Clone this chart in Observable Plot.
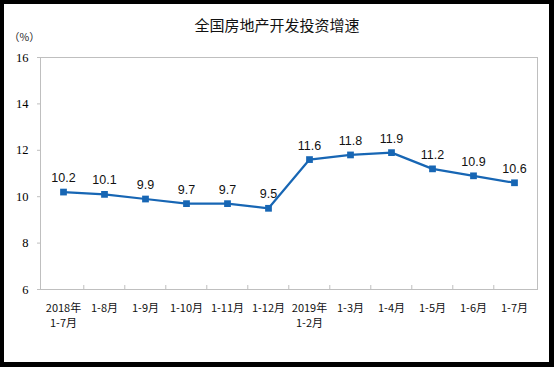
<!DOCTYPE html>
<html>
<head>
<meta charset="utf-8">
<script src="https://cdn.jsdelivr.net/npm/d3@7"></script>
<script src="https://cdn.jsdelivr.net/npm/@observablehq/plot@0.6"></script>
<style>
  html, body { margin: 0; padding: 0; background: #000; width: 554px; height: 367px; overflow: hidden; }
  #frame { position: absolute; left: 4px; top: 4px; width: 545px; height: 358px; background: #fff; }
  #title { position: absolute; left: 0; top: 15px; width: 554px; text-align: center; font: 15px/20px "Noto Sans CJK SC", sans-serif; color: #111; z-index: 2; }
  #unit { position: absolute; left: 9px; top: 30px; font: 10.5px/14px "Noto Sans CJK SC", sans-serif; color: #222; z-index: 2; }
  #chart { position: absolute; left: 0; top: 0; z-index: 1; }
</style>
</head>
<body>
<div id="frame"></div>
<div id="title">全国房地产开发投资增速</div>
<div id="unit">（%）</div>
<div id="chart"></div>
<script>
const categories = ["2018年\n1-7月", "1-8月", "1-9月", "1-10月", "1-11月", "1-12月", "2019年\n1-2月", "1-3月", "1-4月", "1-5月", "1-6月", "1-7月"];
const values = [10.2, 10.1, 9.9, 9.7, 9.7, 9.5, 11.6, 11.8, 11.9, 11.2, 10.9, 10.6];
const yTicks = [6, 8, 10, 12, 14, 16];

const data = categories.map((c, i) => ({cat: c, v: values[i]}));

const W = 554, H = 367, mL = 40, mR = 17, mT = 57, mB = 78;
const step = (W - mL - mR) / categories.length;
const plotH = H - mT - mB;
const lineColor = "#1766b4";
const axisGray = "#bfbfbf";

const chart = Plot.plot({
  width: W, height: H,
  marginLeft: mL, marginRight: mR, marginTop: mT, marginBottom: mB,
  style: {background: "transparent", overflow: "visible"},
  x: {type: "point", domain: categories, padding: 0.5},
  y: {domain: [6, 16]},
  marks: [
    Plot.frame({stroke: axisGray}),
    Plot.axisY({ticks: yTicks, tickSize: 3, tickFormat: () => "", color: axisGray, label: null}),
    Plot.axisY({ticks: yTicks, tickSize: 0, tickPadding: 12, color: "#000", fontSize: 12.5, fontFamily: "Liberation Serif, serif", label: null}),
    Plot.ruleX(categories.slice(1), {x: d => d, dx: -step / 2, insetTop: plotH - 4, stroke: axisGray}),
    Plot.axisX({tickSize: 0, tickPadding: 12, fontSize: 11, fontFamily: "Noto Sans CJK SC, sans-serif", lineHeight: 1.35, color: "#111", label: null}),
    Plot.line(data, {x: "cat", y: "v", stroke: lineColor, strokeWidth: 2.2}),
    Plot.dot(data, {x: "cat", y: "v", symbol: "square", r: 3.8, fill: lineColor}),
    Plot.text(data, {x: "cat", y: "v", text: d => d.v.toFixed(1), dy: -14, fontSize: 12.5, fontFamily: "Liberation Sans, Arial, sans-serif", fill: "#111"})
  ]
});
document.getElementById("chart").appendChild(chart);
</script>
</body>
</html>
